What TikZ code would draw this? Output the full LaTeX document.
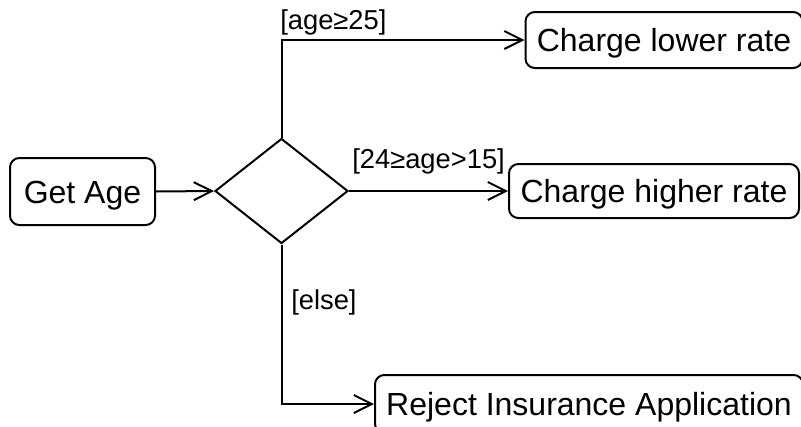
\documentclass[tikz,border=0pt]{standalone}
\usepackage{fontspec}
\setmainfont{Liberation Sans}
\usetikzlibrary{shapes.geometric,arrows.meta}

\tikzset{
  flow/.style={line width=1.5pt},
  openarrow/.style={flow,-{Straight Barb[length=13.5pt,width=13.5pt,line width=1.5pt]}},
  actbox/.style={draw,line width=1.5pt,rounded corners=7pt,inner sep=0pt,
    font=\fontsize{24}{29}\selectfont,text height=17.5pt,text depth=0pt},
  choice/.style={draw,line width=1.5pt,shape=diamond,inner sep=0pt,
    minimum width=99.75pt,minimum height=78.75pt},
  guard/.style={inner sep=0pt,anchor=base west,font=\fontsize{20.5}{25}\selectfont}
}

\begin{document}
\begin{tikzpicture}[x=0.75pt,y=-0.75pt]
  \clip (0,0) rectangle (801,426);
  \fill[white] (0,0) rectangle (801,426);

  % action states
  \node[actbox,minimum width=108.75pt,minimum height=50.25pt] (get) at (82.5,191.5) {Get Age};
  \node[choice] (dec) at (281.5,191) {};
  \node[actbox,minimum width=207.75pt,minimum height=42pt] (lower) at (664,40) {Charge lower rate};
  \node[actbox,minimum width=217.5pt,minimum height=40.5pt] (higher) at (654,191) {Charge higher rate};
  \node[actbox,minimum width=321pt,minimum height=43.5pt] (reject) at (589,404) {Reject Insurance Application};

  % transitions
  \draw[openarrow] (get.east) -- (dec.west);
  \draw[openarrow] (dec.north) |- (lower.west);
  \draw[openarrow] (dec.east) -- (higher.west);
  \draw[openarrow] (dec.south) |- (reject.west);

  % guard conditions
  \node[guard] (g1) at (280,29) {[age≥25]};
  \node[guard] (g2) at (352,168) {[24≥age>15]};
  \node[guard] (g3) at (291,309) {[else]};
\end{tikzpicture}
\end{document}
